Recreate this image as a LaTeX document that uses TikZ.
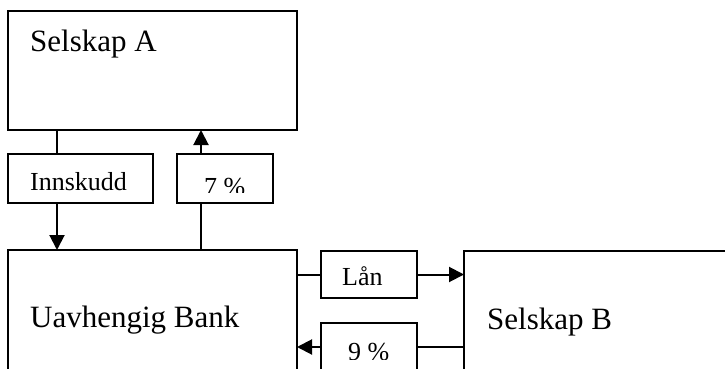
\documentclass[tikz,border=0pt]{standalone}
\usepackage{fontspec}
\setmainfont{Liberation Serif}
\usetikzlibrary{arrows.meta}
\begin{document}
\begin{tikzpicture}[x=1pt,y=1pt,
  box/.style={draw, line width=2pt, inner sep=0pt, outer sep=0pt, anchor=north west},
  big/.style={font=\fontsize{31}{36}\selectfont, inner sep=0pt, anchor=base west},
  small/.style={font=\fontsize{26}{30}\selectfont, inner sep=0pt, anchor=base west},
  conn/.style={line width=2pt},
  arr/.style={line width=2pt, -{Triangle[length=15pt,width=15pt]}}]
\useasboundingbox (0,0) rectangle (725,-369);
\clip (0,0) rectangle (725,-369);
% boxes
\node[box, minimum width=289pt, minimum height=119pt] (A) at (8,-11) {};
\node[box, minimum width=145pt, minimum height=49pt] (In) at (8,-154) {};
\node[box, minimum width=96pt, minimum height=49pt] (P7) at (177,-154) {};
\node[box, minimum width=289pt, minimum height=160pt] (Bank) at (8,-250) {};
\node[box, minimum width=96pt, minimum height=47pt] (Lan) at (321,-251) {};
\node[box, minimum width=96pt, minimum height=48pt] (P9) at (321,-323) {};
\node[box, minimum width=290pt, minimum height=160pt] (B) at (464,-251) {};
% texts
\node[big] (tA) at (30,-52) {Selskap A};
\node[big] (tBank) at (30,-327) {Uavhengig Bank};
\node[big] (tB) at (487,-329) {Selskap B};
\node[small] (tIn) at (30,-190) {Innskudd};
\node[small] (tLan) at (342,-285) {Lån};
\begin{scope}
  \clip (177,-154) rectangle (273,-192);
  \node[small] (tP7) at (204,-195) {7 \%};
\end{scope}
\begin{scope}
  \clip (321,-323) rectangle (417,-359);
  \node[small] (tP9) at (348,-360) {9 \%};
\end{scope}
% connectors
\draw[conn] ([xshift=49pt]A.south west) -- ([xshift=49pt]In.north west);
\draw[arr] ([xshift=49pt]In.south west) -- ([xshift=49pt]Bank.north west);
\draw[arr] ([xshift=24pt]P7.north west) -- ([xshift=24pt]P7.north west |- A.south);
\draw[conn] ([xshift=24pt]P7.south west) -- ([xshift=24pt]P7.south west |- Bank.north);
\draw[conn] (Lan.west -| Bank.east) -- (Lan.west);
\draw[arr] (Lan.east) -- (Lan.east -| B.west);
\draw[conn] (P9.east -| B.west) -- (P9.east);
\draw[arr] (P9.west) -- (P9.west -| Bank.east);
\end{tikzpicture}
\end{document}
